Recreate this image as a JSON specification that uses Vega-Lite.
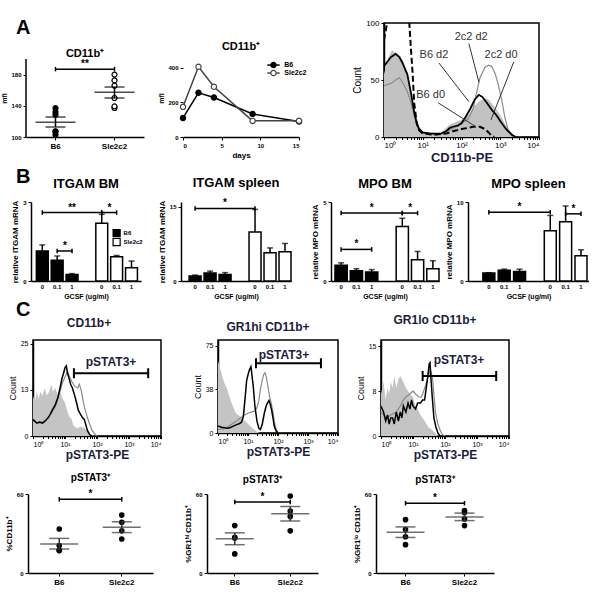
{
"$schema":"https://vega.github.io/schema/vega-lite/v6.json",
"background":"white",
"padding":{"left":0,"top":18,"right":0,"bottom":0},
"config":{
 "font":"Liberation Sans",
 "view":{"stroke":null},
 "axis":{"grid":false,"labelOverlap":false,"domainColor":"black","domainWidth":1.5,"tickColor":"black","tickSize":3,"tickWidth":1,"labelColor":"black","labelFontSize":6,"labelFontWeight":"bold","labelPadding":2,"titleColor":"black","titleFontSize":8,"titleFontWeight":"bold","titlePadding":3},
 "title":{"fontSize":12,"fontWeight":"bold","color":"black"}
},
"datasets":{
 "a1pts":[{"strain":"B6","mfi":132},{"strain":"B6","mfi":128.6},{"strain":"B6","mfi":137},{"strain":"B6","mfi":107.3},{"strain":"B6","mfi":107},{"strain":"B6","mfi":103},{"strain":"Sle2c2","mfi":180},{"strain":"Sle2c2","mfi":172.6},{"strain":"Sle2c2","mfi":165.8},{"strain":"Sle2c2","mfi":150},{"strain":"Sle2c2","mfi":137.2},{"strain":"Sle2c2","mfi":139.3}],
 "a1stats":[{"strain":"B6","mean":118.8,"lo":112.8,"hi":125.6},{"strain":"Sle2c2","mean":157.3,"lo":150,"hi":164.1}],
 "a1sig":[{"from":"B6","to":"Sle2c2","level":187,"label":"**"}],
 "a2":[{"strain":"B6","day":0,"mfi":110},{"strain":"B6","day":2,"mfi":255},{"strain":"B6","day":4,"mfi":228},{"strain":"B6","day":9,"mfi":133},{"strain":"B6","day":15,"mfi":90},{"strain":"Sle2c2","day":0,"mfi":174},{"strain":"Sle2c2","day":2,"mfi":405},{"strain":"Sle2c2","day":4,"mfi":290},{"strain":"Sle2c2","day":9,"mfi":93},{"strain":"Sle2c2","day":15,"mfi":94}],
 "a2leg":[{"strain":"B6","d0":10.9,"day":11.7,"d1":12.5,"tx":13.1,"mfi":415},{"strain":"Sle2c2","d0":10.9,"day":11.7,"d1":12.5,"tx":13.1,"mfi":369}],
 "a3ann":[{"label":"2c2 d2","tx":178,"ty":88,"x1":155,"y1":82,"x2":282,"y2":48},{"label":"B6 d2","tx":19.5,"ty":72,"x1":26,"y1":65,"x2":155,"y2":31},{"label":"2c2 d0","tx":1050,"ty":72,"x1":2240,"y1":66,"x2":575,"y2":15},{"label":"B6 d0","tx":16,"ty":37,"x1":25,"y1":30,"x2":235,"y2":9}],
 "hist":[
  {"panel":"a3","series":"2c2 d0","x":1,"count":55},{"panel":"a3","series":"2c2 d0","x":1.3,"count":70},{"panel":"a3","series":"2c2 d0","x":1.6,"count":76},{"panel":"a3","series":"2c2 d0","x":2,"count":74},{"panel":"a3","series":"2c2 d0","x":2.5,"count":72},{"panel":"a3","series":"2c2 d0","x":3,"count":68},{"panel":"a3","series":"2c2 d0","x":4,"count":55},{"panel":"a3","series":"2c2 d0","x":5,"count":40},{"panel":"a3","series":"2c2 d0","x":6,"count":25},{"panel":"a3","series":"2c2 d0","x":7,"count":14},{"panel":"a3","series":"2c2 d0","x":8.5,"count":7},{"panel":"a3","series":"2c2 d0","x":10,"count":4},{"panel":"a3","series":"2c2 d0","x":14,"count":3},{"panel":"a3","series":"2c2 d0","x":20,"count":3},{"panel":"a3","series":"2c2 d0","x":30,"count":4},{"panel":"a3","series":"2c2 d0","x":40,"count":8},{"panel":"a3","series":"2c2 d0","x":50,"count":11},{"panel":"a3","series":"2c2 d0","x":70,"count":13},{"panel":"a3","series":"2c2 d0","x":100,"count":15},{"panel":"a3","series":"2c2 d0","x":150,"count":19},{"panel":"a3","series":"2c2 d0","x":200,"count":26},{"panel":"a3","series":"2c2 d0","x":300,"count":32},{"panel":"a3","series":"2c2 d0","x":400,"count":34},{"panel":"a3","series":"2c2 d0","x":500,"count":33},{"panel":"a3","series":"2c2 d0","x":700,"count":27},{"panel":"a3","series":"2c2 d0","x":1000,"count":19},{"panel":"a3","series":"2c2 d0","x":1400,"count":10},{"panel":"a3","series":"2c2 d0","x":2000,"count":3},{"panel":"a3","series":"2c2 d0","x":2500,"count":0},
  {"panel":"a3","series":"B6 d2","x":1,"count":62},{"panel":"a3","series":"B6 d2","x":1.5,"count":70},{"panel":"a3","series":"B6 d2","x":2,"count":73},{"panel":"a3","series":"B6 d2","x":2.5,"count":70},{"panel":"a3","series":"B6 d2","x":3,"count":65},{"panel":"a3","series":"B6 d2","x":4,"count":55},{"panel":"a3","series":"B6 d2","x":5,"count":38},{"panel":"a3","series":"B6 d2","x":6,"count":22},{"panel":"a3","series":"B6 d2","x":7,"count":12},{"panel":"a3","series":"B6 d2","x":8,"count":7},{"panel":"a3","series":"B6 d2","x":10,"count":4},{"panel":"a3","series":"B6 d2","x":15,"count":3},{"panel":"a3","series":"B6 d2","x":20,"count":3},{"panel":"a3","series":"B6 d2","x":30,"count":3},{"panel":"a3","series":"B6 d2","x":40,"count":5},{"panel":"a3","series":"B6 d2","x":50,"count":8},{"panel":"a3","series":"B6 d2","x":60,"count":9},{"panel":"a3","series":"B6 d2","x":80,"count":10},{"panel":"a3","series":"B6 d2","x":100,"count":12},{"panel":"a3","series":"B6 d2","x":130,"count":18},{"panel":"a3","series":"B6 d2","x":170,"count":25},{"panel":"a3","series":"B6 d2","x":220,"count":33},{"panel":"a3","series":"B6 d2","x":280,"count":37},{"panel":"a3","series":"B6 d2","x":350,"count":35},{"panel":"a3","series":"B6 d2","x":450,"count":30},{"panel":"a3","series":"B6 d2","x":600,"count":24},{"panel":"a3","series":"B6 d2","x":800,"count":19},{"panel":"a3","series":"B6 d2","x":1000,"count":14},{"panel":"a3","series":"B6 d2","x":1400,"count":7},{"panel":"a3","series":"B6 d2","x":2000,"count":2},{"panel":"a3","series":"B6 d2","x":2500,"count":0},
  {"panel":"a3","series":"2c2 d2","x":1,"count":45},{"panel":"a3","series":"2c2 d2","x":1.5,"count":47},{"panel":"a3","series":"2c2 d2","x":2,"count":50},{"panel":"a3","series":"2c2 d2","x":2.5,"count":52},{"panel":"a3","series":"2c2 d2","x":3,"count":48},{"panel":"a3","series":"2c2 d2","x":4,"count":40},{"panel":"a3","series":"2c2 d2","x":5,"count":30},{"panel":"a3","series":"2c2 d2","x":6,"count":18},{"panel":"a3","series":"2c2 d2","x":8,"count":8},{"panel":"a3","series":"2c2 d2","x":10,"count":4},{"panel":"a3","series":"2c2 d2","x":20,"count":3},{"panel":"a3","series":"2c2 d2","x":30,"count":3},{"panel":"a3","series":"2c2 d2","x":50,"count":6},{"panel":"a3","series":"2c2 d2","x":70,"count":9},{"panel":"a3","series":"2c2 d2","x":100,"count":12},{"panel":"a3","series":"2c2 d2","x":150,"count":16},{"panel":"a3","series":"2c2 d2","x":200,"count":25},{"panel":"a3","series":"2c2 d2","x":250,"count":40},{"panel":"a3","series":"2c2 d2","x":300,"count":52},{"panel":"a3","series":"2c2 d2","x":400,"count":61},{"panel":"a3","series":"2c2 d2","x":500,"count":63},{"panel":"a3","series":"2c2 d2","x":600,"count":62},{"panel":"a3","series":"2c2 d2","x":750,"count":55},{"panel":"a3","series":"2c2 d2","x":900,"count":45},{"panel":"a3","series":"2c2 d2","x":1100,"count":32},{"panel":"a3","series":"2c2 d2","x":1300,"count":18},{"panel":"a3","series":"2c2 d2","x":1600,"count":6},{"panel":"a3","series":"2c2 d2","x":2000,"count":1},{"panel":"a3","series":"2c2 d2","x":2200,"count":0},
  {"panel":"a3","series":"B6 d0","x":1,"count":85},{"panel":"a3","series":"B6 d0","x":1.2,"count":100},{"panel":"a3","series":"B6 d0","x":1.5,"count":115},{"panel":"a3","series":"B6 d0","x":2,"count":120},{"panel":"a3","series":"B6 d0","x":3,"count":120},{"panel":"a3","series":"B6 d0","x":4,"count":110},{"panel":"a3","series":"B6 d0","x":4.5,"count":100},{"panel":"a3","series":"B6 d0","x":5,"count":75},{"panel":"a3","series":"B6 d0","x":5.5,"count":55},{"panel":"a3","series":"B6 d0","x":6,"count":30},{"panel":"a3","series":"B6 d0","x":7,"count":12},{"panel":"a3","series":"B6 d0","x":8,"count":6},{"panel":"a3","series":"B6 d0","x":10,"count":3},{"panel":"a3","series":"B6 d0","x":20,"count":2},{"panel":"a3","series":"B6 d0","x":40,"count":3},{"panel":"a3","series":"B6 d0","x":60,"count":5},{"panel":"a3","series":"B6 d0","x":100,"count":7},{"panel":"a3","series":"B6 d0","x":150,"count":8},{"panel":"a3","series":"B6 d0","x":200,"count":9},{"panel":"a3","series":"B6 d0","x":300,"count":9},{"panel":"a3","series":"B6 d0","x":400,"count":7},{"panel":"a3","series":"B6 d0","x":500,"count":4},{"panel":"a3","series":"B6 d0","x":600,"count":1},{"panel":"a3","series":"B6 d0","x":700,"count":0},
  {"panel":"c1","series":"isotype","x":1,"count":11},{"panel":"c1","series":"isotype","x":1.15,"count":9},{"panel":"c1","series":"isotype","x":1.3,"count":12},{"panel":"c1","series":"isotype","x":1.5,"count":10},{"panel":"c1","series":"isotype","x":1.7,"count":12},{"panel":"c1","series":"isotype","x":2,"count":11},{"panel":"c1","series":"isotype","x":2.3,"count":13},{"panel":"c1","series":"isotype","x":2.7,"count":11},{"panel":"c1","series":"isotype","x":3.2,"count":12},{"panel":"c1","series":"isotype","x":3.7,"count":14},{"panel":"c1","series":"isotype","x":4.2,"count":12},{"panel":"c1","series":"isotype","x":5,"count":13},{"panel":"c1","series":"isotype","x":6,"count":11},{"panel":"c1","series":"isotype","x":7,"count":12},{"panel":"c1","series":"isotype","x":8.5,"count":10},{"panel":"c1","series":"isotype","x":10,"count":9},{"panel":"c1","series":"isotype","x":12,"count":6.5},{"panel":"c1","series":"isotype","x":14,"count":5},{"panel":"c1","series":"isotype","x":16,"count":4.7},{"panel":"c1","series":"isotype","x":18,"count":3},{"panel":"c1","series":"isotype","x":20,"count":2.6},{"panel":"c1","series":"isotype","x":25,"count":2},{"panel":"c1","series":"isotype","x":30,"count":2.6},{"panel":"c1","series":"isotype","x":40,"count":2.2},{"panel":"c1","series":"isotype","x":50,"count":1.5},{"panel":"c1","series":"isotype","x":60,"count":0.5},{"panel":"c1","series":"isotype","x":80,"count":0},
  {"panel":"c1","series":"B6","x":1,"count":4.5},{"panel":"c1","series":"B6","x":1.3,"count":3.5},{"panel":"c1","series":"B6","x":1.6,"count":3.8},{"panel":"c1","series":"B6","x":2,"count":3.5},{"panel":"c1","series":"B6","x":2.5,"count":4.2},{"panel":"c1","series":"B6","x":3,"count":5},{"panel":"c1","series":"B6","x":3.5,"count":6},{"panel":"c1","series":"B6","x":4,"count":7},{"panel":"c1","series":"B6","x":5,"count":8.5},{"panel":"c1","series":"B6","x":6,"count":10.5},{"panel":"c1","series":"B6","x":7,"count":13},{"panel":"c1","series":"B6","x":8,"count":15.5},{"panel":"c1","series":"B6","x":9,"count":17},{"panel":"c1","series":"B6","x":10,"count":18.5},{"panel":"c1","series":"B6","x":11,"count":19},{"panel":"c1","series":"B6","x":12,"count":17},{"panel":"c1","series":"B6","x":13,"count":16},{"panel":"c1","series":"B6","x":15,"count":14},{"panel":"c1","series":"B6","x":17,"count":13},{"panel":"c1","series":"B6","x":20,"count":11},{"panel":"c1","series":"B6","x":23,"count":9},{"panel":"c1","series":"B6","x":26,"count":7},{"panel":"c1","series":"B6","x":30,"count":6},{"panel":"c1","series":"B6","x":35,"count":5},{"panel":"c1","series":"B6","x":40,"count":4.5},{"panel":"c1","series":"B6","x":45,"count":3},{"panel":"c1","series":"B6","x":50,"count":1.5},{"panel":"c1","series":"B6","x":60,"count":0.3},{"panel":"c1","series":"B6","x":70,"count":0},
  {"panel":"c1","series":"Sle2c2","x":1,"count":4},{"panel":"c1","series":"Sle2c2","x":1.3,"count":3.8},{"panel":"c1","series":"Sle2c2","x":1.6,"count":3.5},{"panel":"c1","series":"Sle2c2","x":2,"count":3.8},{"panel":"c1","series":"Sle2c2","x":2.5,"count":4.5},{"panel":"c1","series":"Sle2c2","x":3,"count":5},{"panel":"c1","series":"Sle2c2","x":4,"count":6.5},{"panel":"c1","series":"Sle2c2","x":5,"count":8},{"panel":"c1","series":"Sle2c2","x":6,"count":10},{"panel":"c1","series":"Sle2c2","x":7,"count":12},{"panel":"c1","series":"Sle2c2","x":8,"count":14},{"panel":"c1","series":"Sle2c2","x":10,"count":16},{"panel":"c1","series":"Sle2c2","x":12,"count":17.5},{"panel":"c1","series":"Sle2c2","x":14,"count":16},{"panel":"c1","series":"Sle2c2","x":17,"count":14.5},{"panel":"c1","series":"Sle2c2","x":20,"count":13.5},{"panel":"c1","series":"Sle2c2","x":25,"count":13},{"panel":"c1","series":"Sle2c2","x":28,"count":14},{"panel":"c1","series":"Sle2c2","x":32,"count":12.5},{"panel":"c1","series":"Sle2c2","x":36,"count":10},{"panel":"c1","series":"Sle2c2","x":40,"count":8},{"panel":"c1","series":"Sle2c2","x":50,"count":5},{"panel":"c1","series":"Sle2c2","x":60,"count":3},{"panel":"c1","series":"Sle2c2","x":70,"count":1.5},{"panel":"c1","series":"Sle2c2","x":90,"count":0.3},{"panel":"c1","series":"Sle2c2","x":100,"count":0},
  {"panel":"c2","series":"isotype","x":1,"count":62},{"panel":"c2","series":"isotype","x":1.2,"count":55},{"panel":"c2","series":"isotype","x":1.4,"count":48},{"panel":"c2","series":"isotype","x":1.7,"count":42},{"panel":"c2","series":"isotype","x":2,"count":38},{"panel":"c2","series":"isotype","x":2.5,"count":30},{"panel":"c2","series":"isotype","x":3,"count":24},{"panel":"c2","series":"isotype","x":3.5,"count":20},{"panel":"c2","series":"isotype","x":4,"count":17},{"panel":"c2","series":"isotype","x":5,"count":15},{"panel":"c2","series":"isotype","x":6,"count":13},{"panel":"c2","series":"isotype","x":7.5,"count":11},{"panel":"c2","series":"isotype","x":10,"count":8},{"panel":"c2","series":"isotype","x":13,"count":5},{"panel":"c2","series":"isotype","x":16,"count":3},{"panel":"c2","series":"isotype","x":20,"count":1},{"panel":"c2","series":"isotype","x":25,"count":0},
  {"panel":"c2","series":"B6","x":1,"count":6},{"panel":"c2","series":"B6","x":1.3,"count":5},{"panel":"c2","series":"B6","x":1.7,"count":4.5},{"panel":"c2","series":"B6","x":2,"count":4},{"panel":"c2","series":"B6","x":2.5,"count":4.5},{"panel":"c2","series":"B6","x":3,"count":5.5},{"panel":"c2","series":"B6","x":4,"count":7},{"panel":"c2","series":"B6","x":5,"count":8},{"panel":"c2","series":"B6","x":6,"count":9},{"panel":"c2","series":"B6","x":7,"count":14},{"panel":"c2","series":"B6","x":8,"count":30},{"panel":"c2","series":"B6","x":9,"count":45},{"panel":"c2","series":"B6","x":10,"count":50},{"panel":"c2","series":"B6","x":11,"count":54},{"panel":"c2","series":"B6","x":12.5,"count":57},{"panel":"c2","series":"B6","x":13.5,"count":50},{"panel":"c2","series":"B6","x":15,"count":40},{"panel":"c2","series":"B6","x":17,"count":23},{"panel":"c2","series":"B6","x":20,"count":10},{"panel":"c2","series":"B6","x":23,"count":4},{"panel":"c2","series":"B6","x":26,"count":3},{"panel":"c2","series":"B6","x":30,"count":8},{"panel":"c2","series":"B6","x":35,"count":17},{"panel":"c2","series":"B6","x":40,"count":23},{"panel":"c2","series":"B6","x":45,"count":26},{"panel":"c2","series":"B6","x":50,"count":28},{"panel":"c2","series":"B6","x":55,"count":25},{"panel":"c2","series":"B6","x":62,"count":19},{"panel":"c2","series":"B6","x":68,"count":13},{"panel":"c2","series":"B6","x":75,"count":6},{"panel":"c2","series":"B6","x":85,"count":2},{"panel":"c2","series":"B6","x":100,"count":0},
  {"panel":"c2","series":"Sle2c2","x":1,"count":3},{"panel":"c2","series":"Sle2c2","x":1.5,"count":3.5},{"panel":"c2","series":"Sle2c2","x":2,"count":5},{"panel":"c2","series":"Sle2c2","x":3,"count":8},{"panel":"c2","series":"Sle2c2","x":4,"count":10},{"panel":"c2","series":"Sle2c2","x":5,"count":12},{"panel":"c2","series":"Sle2c2","x":7,"count":15},{"panel":"c2","series":"Sle2c2","x":10,"count":17},{"panel":"c2","series":"Sle2c2","x":13,"count":18},{"panel":"c2","series":"Sle2c2","x":17,"count":19},{"panel":"c2","series":"Sle2c2","x":20,"count":22},{"panel":"c2","series":"Sle2c2","x":23,"count":28},{"panel":"c2","series":"Sle2c2","x":26,"count":38},{"panel":"c2","series":"Sle2c2","x":30,"count":46},{"panel":"c2","series":"Sle2c2","x":34,"count":51},{"panel":"c2","series":"Sle2c2","x":37,"count":52},{"panel":"c2","series":"Sle2c2","x":41,"count":48},{"panel":"c2","series":"Sle2c2","x":46,"count":40},{"panel":"c2","series":"Sle2c2","x":52,"count":32},{"panel":"c2","series":"Sle2c2","x":60,"count":25},{"panel":"c2","series":"Sle2c2","x":68,"count":18},{"panel":"c2","series":"Sle2c2","x":75,"count":10},{"panel":"c2","series":"Sle2c2","x":85,"count":4},{"panel":"c2","series":"Sle2c2","x":100,"count":0},
  {"panel":"c3","series":"isotype","x":1,"count":7},{"panel":"c3","series":"isotype","x":1.2,"count":9},{"panel":"c3","series":"isotype","x":1.4,"count":6},{"panel":"c3","series":"isotype","x":1.6,"count":8},{"panel":"c3","series":"isotype","x":1.8,"count":7},{"panel":"c3","series":"isotype","x":2,"count":9},{"panel":"c3","series":"isotype","x":2.3,"count":8},{"panel":"c3","series":"isotype","x":2.6,"count":10},{"panel":"c3","series":"isotype","x":3,"count":8},{"panel":"c3","series":"isotype","x":3.5,"count":9.5},{"panel":"c3","series":"isotype","x":4,"count":10},{"panel":"c3","series":"isotype","x":5,"count":9},{"panel":"c3","series":"isotype","x":6,"count":8},{"panel":"c3","series":"isotype","x":7,"count":7.5},{"panel":"c3","series":"isotype","x":8,"count":7},{"panel":"c3","series":"isotype","x":10,"count":6.5},{"panel":"c3","series":"isotype","x":12,"count":5},{"panel":"c3","series":"isotype","x":14,"count":4.5},{"panel":"c3","series":"isotype","x":17,"count":3.5},{"panel":"c3","series":"isotype","x":20,"count":3},{"panel":"c3","series":"isotype","x":25,"count":2.2},{"panel":"c3","series":"isotype","x":30,"count":1.5},{"panel":"c3","series":"isotype","x":40,"count":1},{"panel":"c3","series":"isotype","x":50,"count":0.5},{"panel":"c3","series":"isotype","x":60,"count":0},
  {"panel":"c3","series":"B6","x":1,"count":5},{"panel":"c3","series":"B6","x":1.2,"count":4},{"panel":"c3","series":"B6","x":1.4,"count":2.5},{"panel":"c3","series":"B6","x":1.6,"count":3.5},{"panel":"c3","series":"B6","x":1.8,"count":2},{"panel":"c3","series":"B6","x":2,"count":3},{"panel":"c3","series":"B6","x":2.3,"count":3},{"panel":"c3","series":"B6","x":2.6,"count":2},{"panel":"c3","series":"B6","x":3,"count":4},{"panel":"c3","series":"B6","x":3.5,"count":2.5},{"panel":"c3","series":"B6","x":4,"count":4},{"panel":"c3","series":"B6","x":4.5,"count":3},{"panel":"c3","series":"B6","x":5,"count":5},{"panel":"c3","series":"B6","x":6,"count":4},{"panel":"c3","series":"B6","x":7,"count":5.5},{"panel":"c3","series":"B6","x":8,"count":4.5},{"panel":"c3","series":"B6","x":9,"count":6},{"panel":"c3","series":"B6","x":10,"count":5},{"panel":"c3","series":"B6","x":12,"count":4.5},{"panel":"c3","series":"B6","x":14,"count":5.5},{"panel":"c3","series":"B6","x":17,"count":5.5},{"panel":"c3","series":"B6","x":20,"count":6},{"panel":"c3","series":"B6","x":23,"count":6},{"panel":"c3","series":"B6","x":26,"count":8},{"panel":"c3","series":"B6","x":29,"count":10},{"panel":"c3","series":"B6","x":32,"count":12},{"panel":"c3","series":"B6","x":34,"count":12.2},{"panel":"c3","series":"B6","x":36,"count":10},{"panel":"c3","series":"B6","x":40,"count":6.5},{"panel":"c3","series":"B6","x":45,"count":3},{"panel":"c3","series":"B6","x":52,"count":1.5},{"panel":"c3","series":"B6","x":60,"count":0.5},{"panel":"c3","series":"B6","x":70,"count":0},
  {"panel":"c3","series":"Sle2c2","x":1,"count":4},{"panel":"c3","series":"Sle2c2","x":1.5,"count":3},{"panel":"c3","series":"Sle2c2","x":2,"count":3.5},{"panel":"c3","series":"Sle2c2","x":3,"count":4},{"panel":"c3","series":"Sle2c2","x":4,"count":5},{"panel":"c3","series":"Sle2c2","x":5,"count":6},{"panel":"c3","series":"Sle2c2","x":6,"count":6.5},{"panel":"c3","series":"Sle2c2","x":8,"count":7},{"panel":"c3","series":"Sle2c2","x":10,"count":7.5},{"panel":"c3","series":"Sle2c2","x":12,"count":7},{"panel":"c3","series":"Sle2c2","x":15,"count":6.5},{"panel":"c3","series":"Sle2c2","x":18,"count":6.5},{"panel":"c3","series":"Sle2c2","x":20,"count":7},{"panel":"c3","series":"Sle2c2","x":25,"count":8.5},{"panel":"c3","series":"Sle2c2","x":30,"count":10},{"panel":"c3","series":"Sle2c2","x":35,"count":11},{"panel":"c3","series":"Sle2c2","x":40,"count":10},{"panel":"c3","series":"Sle2c2","x":45,"count":7},{"panel":"c3","series":"Sle2c2","x":50,"count":4},{"panel":"c3","series":"Sle2c2","x":60,"count":2},{"panel":"c3","series":"Sle2c2","x":70,"count":1},{"panel":"c3","series":"Sle2c2","x":80,"count":0.3},{"panel":"c3","series":"Sle2c2","x":100,"count":0}
 ],
 "gates":[{"panel":"c1","from":19,"to":3980,"level":17,"lx":275,"ly":20,"label":"pSTAT3+"},{"panel":"c2","from":18.5,"to":2700,"level":60,"lx":158,"ly":67,"label":"pSTAT3+"},{"panel":"c3","from":20,"to":3980,"level":10,"lx":275,"ly":12.7,"label":"pSTAT3+"}],
 "bars":[
  {"panel":"b1","cond":"B6|0","strain":"B6","val":1.14,"err":1.37},{"panel":"b1","cond":"B6|0.1","strain":"B6","val":0.79,"err":0.95},{"panel":"b1","cond":"B6|1","strain":"B6","val":0.25,"err":0.28},{"panel":"b1","cond":"Sle2c2|0","strain":"Sle2c2","val":2.19,"err":2.53},{"panel":"b1","cond":"Sle2c2|0.1","strain":"Sle2c2","val":0.92,"err":0.97},{"panel":"b1","cond":"Sle2c2|1","strain":"Sle2c2","val":0.5,"err":0.76},
  {"panel":"b2","cond":"B6|0","strain":"B6","val":1.0,"err":1.2},{"panel":"b2","cond":"B6|0.1","strain":"B6","val":1.6,"err":2.0},{"panel":"b2","cond":"B6|1","strain":"B6","val":1.3,"err":1.7},{"panel":"b2","cond":"Sle2c2|0","strain":"Sle2c2","val":9.9,"err":14.5},{"panel":"b2","cond":"Sle2c2|0.1","strain":"Sle2c2","val":5.7,"err":6.7},{"panel":"b2","cond":"Sle2c2|1","strain":"Sle2c2","val":5.9,"err":7.6},
  {"panel":"b3","cond":"B6|0","strain":"B6","val":1.0,"err":1.15},{"panel":"b3","cond":"B6|0.1","strain":"B6","val":0.65,"err":0.78},{"panel":"b3","cond":"B6|1","strain":"B6","val":0.57,"err":0.72},{"panel":"b3","cond":"Sle2c2|0","strain":"Sle2c2","val":3.45,"err":3.97},{"panel":"b3","cond":"Sle2c2|0.1","strain":"Sle2c2","val":1.35,"err":1.87},{"panel":"b3","cond":"Sle2c2|1","strain":"Sle2c2","val":0.78,"err":1.28},
  {"panel":"b4","cond":"B6|0","strain":"B6","val":1.0,"err":1.05},{"panel":"b4","cond":"B6|0.1","strain":"B6","val":1.35,"err":1.5},{"panel":"b4","cond":"B6|1","strain":"B6","val":1.2,"err":1.5},{"panel":"b4","cond":"Sle2c2|0","strain":"Sle2c2","val":6.35,"err":8.3},{"panel":"b4","cond":"Sle2c2|0.1","strain":"Sle2c2","val":7.5,"err":9.5},{"panel":"b4","cond":"Sle2c2|1","strain":"Sle2c2","val":3.2,"err":3.95}
 ],
 "blegend":[{"strain":"B6","cond":"Sle2c2|0.1","y":1.82},{"strain":"Sle2c2","cond":"Sle2c2|0.1","y":1.48}],
 "bsig":[
  {"panel":"b1","from":"B6|0","to":"Sle2c2|0","level":2.6,"label":"**","mid":"B6|1"},{"panel":"b1","from":"Sle2c2|0","to":"Sle2c2|0.1","level":2.6,"label":"*"},{"panel":"b1","from":"B6|0.1","to":"B6|1","level":1.14,"label":"*"},
  {"panel":"b2","from":"B6|0","to":"Sle2c2|0","level":14.7,"label":"*","mid":"B6|1"},
  {"panel":"b3","from":"B6|0","to":"Sle2c2|0","level":4.3,"label":"*","mid":"B6|1"},{"panel":"b3","from":"Sle2c2|0","to":"Sle2c2|0.1","level":4.3,"label":"*"},{"panel":"b3","from":"B6|0","to":"B6|1","level":2.0,"label":"*","mid":"B6|0.1"},
  {"panel":"b4","from":"B6|0","to":"Sle2c2|0","level":8.7,"label":"*","mid":"B6|1"},{"panel":"b4","from":"Sle2c2|0.1","to":"Sle2c2|1","level":8.5,"label":"*"}
 ],
 "spts":[
  {"panel":"s1","strain":"B6","pct":33.4},{"panel":"s1","strain":"B6","pct":20.8},{"panel":"s1","strain":"B6","pct":17},{"panel":"s1","strain":"B6","pct":17.2},{"panel":"s1","strain":"Sle2c2","pct":44},{"panel":"s1","strain":"Sle2c2","pct":38.5},{"panel":"s1","strain":"Sle2c2","pct":32},{"panel":"s1","strain":"Sle2c2","pct":25.8},
  {"panel":"s2","strain":"B6","pct":36},{"panel":"s2","strain":"B6","pct":27},{"panel":"s2","strain":"B6","pct":26.5},{"panel":"s2","strain":"B6","pct":14.5},{"panel":"s2","strain":"Sle2c2","pct":58.5},{"panel":"s2","strain":"Sle2c2","pct":47},{"panel":"s2","strain":"Sle2c2","pct":43},{"panel":"s2","strain":"Sle2c2","pct":32},
  {"panel":"s3","strain":"B6","pct":40.5},{"panel":"s3","strain":"B6","pct":33},{"panel":"s3","strain":"B6","pct":27.5},{"panel":"s3","strain":"B6","pct":21.5},{"panel":"s3","strain":"Sle2c2","pct":47.5},{"panel":"s3","strain":"Sle2c2","pct":46},{"panel":"s3","strain":"Sle2c2","pct":41},{"panel":"s3","strain":"Sle2c2","pct":36}
 ],
 "sstats":[
  {"panel":"s1","strain":"B6","mean":22,"lo":18.2,"hi":26.3},{"panel":"s1","strain":"Sle2c2","mean":34.7,"lo":30.7,"hi":38.9},
  {"panel":"s2","strain":"B6","mean":26,"lo":21.5,"hi":30.5},{"panel":"s2","strain":"Sle2c2","mean":45,"lo":39.5,"hi":50.5},
  {"panel":"s3","strain":"B6","mean":31,"lo":27,"hi":35},{"panel":"s3","strain":"Sle2c2","mean":42.5,"lo":39.8,"hi":45.5}
 ],
 "ssig":[{"panel":"s1","from":"B6","to":"Sle2c2","level":56,"label":"*"},{"panel":"s2","from":"B6","to":"Sle2c2","level":54,"label":"*"},{"panel":"s3","from":"B6","to":"Sle2c2","level":53,"label":"*"}]
},
"spacing":0,
"vconcat":[
 {"bounds":"flush","spacing":12,"hconcat":[
  {"width":13,"height":1,"data":{"values":[]},"mark":"point","title":{"text":"A","anchor":"start","fontSize":20,"offset":0,"dy":15,"dx":15,"frame":"group"}},
  {"width":118,"height":114,"title":{"text":"CD11b⁺","fontSize":11,"offset":0,"dy":36},
   "encoding":{"x":{"field":"strain","type":"nominal","scale":{"domain":["B6","Sle2c2"],"paddingInner":0,"paddingOuter":0},"axis":{"title":null,"labelAngle":0,"labelFontSize":8}}},
   "layer":[
    {"data":{"name":"a1pts"},"mark":{"type":"point","filled":true,"size":25,"stroke":"black","strokeWidth":1.2,"opacity":1},
     "encoding":{"y":{"field":"mfi","type":"quantitative","scale":{"domain":[100,246.2],"nice":false,"zero":false},"axis":{"values":[100,120,140,160,180,200],"title":"mfi","titleFontSize":7,"domain":false,"titleY":75,"labelOverlap":false}},
                 "fill":{"field":"strain","type":"nominal","scale":{"domain":["B6","Sle2c2"],"range":["black","white"]},"legend":null}}},
    {"data":{"values":[{}]},"mark":{"type":"rule","strokeWidth":1.5,"color":"black"},"encoding":{"x":{"datum":"B6","bandPosition":0},"y":{"datum":100},"y2":{"datum":200}}},
    {"data":{"name":"a1stats"},"mark":{"type":"tick","size":40,"thickness":1.5,"color":"black"},"encoding":{"y":{"field":"mean","type":"quantitative"}}},
    {"data":{"name":"a1stats"},"mark":{"type":"rule","strokeWidth":1.5,"color":"black"},"encoding":{"y":{"field":"lo","type":"quantitative"},"y2":{"field":"hi"}}},
    {"data":{"name":"a1stats"},"mark":{"type":"tick","size":20,"thickness":1.5,"color":"black"},"encoding":{"y":{"field":"lo","type":"quantitative"}}},
    {"data":{"name":"a1stats"},"mark":{"type":"tick","size":20,"thickness":1.5,"color":"black"},"encoding":{"y":{"field":"hi","type":"quantitative"}}},
    {"data":{"name":"a1sig"},"mark":{"type":"rule","strokeWidth":1.5,"color":"black"},"encoding":{"x":{"field":"from","type":"nominal"},"x2":{"field":"to"},"y":{"field":"level","type":"quantitative"}}},
    {"data":{"name":"a1sig"},"transform":[{"fold":["from","to"],"as":["end","pos"]}],"mark":{"type":"point","shape":"M0,-1L0,1","size":20,"stroke":"black","strokeWidth":1.5,"opacity":1},"encoding":{"x":{"field":"pos","type":"nominal"},"y":{"field":"level","type":"quantitative"}}},
    {"data":{"name":"a1sig"},"mark":{"type":"text","baseline":"bottom","fontSize":10,"fontWeight":"bold"},"encoding":{"x":{"field":"from","type":"nominal","bandPosition":1},"y":{"field":"level","type":"quantitative"},"text":{"field":"label"}}}
   ]},
  {"width":15,"height":1,"data":{"values":[]},"mark":"point"},
  {"width":116,"height":114,"title":{"text":"CD11b⁺","fontSize":11,"offset":0,"dy":29},
   "encoding":{"x":{"field":"day","type":"quantitative","scale":{"domain":[0,15]},"axis":{"values":[0,5,10,15],"title":"days","titleFontSize":8}}},
   "layer":[
    {"data":{"name":"a2"},"mark":{"type":"line","strokeWidth":1.5},"encoding":{"y":{"field":"mfi","type":"quantitative","scale":{"domain":[0,657.7],"nice":false},"axis":{"values":[0,100,200,300,400],"title":"mfi","titleFontSize":7,"domain":false,"titleY":75,"labelOverlap":false}},"stroke":{"field":"strain","type":"nominal","scale":{"domain":["B6","Sle2c2"],"range":["black","#444444"]},"legend":null}}},
    {"data":{"name":"a2"},"mark":{"type":"point","filled":true,"size":28,"strokeWidth":1.2,"opacity":1},"encoding":{"y":{"field":"mfi","type":"quantitative"},"stroke":{"field":"strain","type":"nominal","legend":null},"fill":{"field":"strain","type":"nominal","scale":{"domain":["B6","Sle2c2"],"range":["black","white"]},"legend":null}}},
    {"data":{"values":[{}]},"mark":{"type":"rule","strokeWidth":1.5,"color":"black"},"encoding":{"x":{"datum":0},"y":{"datum":0},"y2":{"datum":450}}},
    {"data":{"name":"a2leg"},"mark":{"type":"rule","strokeWidth":1.5},"encoding":{"x":{"field":"d0","type":"quantitative"},"x2":{"field":"d1"},"y":{"field":"mfi","type":"quantitative"},"stroke":{"field":"strain","type":"nominal","legend":null}}},
    {"data":{"name":"a2leg"},"mark":{"type":"point","filled":true,"size":28,"strokeWidth":1.2,"opacity":1},"encoding":{"x":{"field":"day","type":"quantitative"},"y":{"field":"mfi","type":"quantitative"},"stroke":{"field":"strain","type":"nominal","legend":null},"fill":{"field":"strain","type":"nominal","legend":null}}},
    {"data":{"name":"a2leg"},"mark":{"type":"text","align":"left","baseline":"middle","fontSize":7,"fontWeight":"bold"},"encoding":{"x":{"field":"tx","type":"quantitative"},"y":{"field":"mfi","type":"quantitative"},"text":{"field":"strain"}}}
   ]},
  {"width":61,"height":1,"data":{"values":[]},"mark":"point"},
  {"width":155,"height":114,"view":{"stroke":"black","strokeWidth":1.5},
   "layer":[
    {"data":{"name":"hist"},"transform":[{"filter":"datum.panel=='a3' && datum.series=='2c2 d0'"}],"mark":{"type":"area","color":"#c2c2c2","clip":true},
     "encoding":{"x":{"field":"x","type":"quantitative","scale":{"type":"log","domain":[1,10000]},"axis":{"values":[1,2,3,4,5,6,7,8,9,10,20,30,40,50,60,70,80,90,100,200,300,400,500,600,700,800,900,1000,2000,3000,4000,5000,6000,7000,8000,9000,10000],"labelExpr":"datum.value==1?'10⁰':datum.value==10?'10¹':datum.value==100?'10²':datum.value==1000?'10³':datum.value==10000?'10⁴':''","tickSize":2.5,"title":"CD11b-PE","titleFontSize":13,"titleColor":"#1c1c3c","labelFontSize":8,"labelFontWeight":"normal","titlePadding":2}},
                 "y":{"field":"count","type":"quantitative","scale":{"domain":[0,100]},"axis":{"values":[0,25,50,75,100],"title":"Count","titleFontSize":10,"titleFontWeight":"normal","labelFontSize":8,"labelFontWeight":"normal"}}}},
    {"data":{"name":"hist"},"transform":[{"filter":"datum.panel=='a3' && datum.series=='2c2 d2'"}],"mark":{"type":"line","color":"#8a8a8a","strokeWidth":1.2,"clip":true},"encoding":{"x":{"field":"x","type":"quantitative"},"y":{"field":"count","type":"quantitative"}}},
    {"data":{"name":"hist"},"transform":[{"filter":"datum.panel=='a3' && datum.series=='B6 d2'"}],"mark":{"type":"line","color":"black","strokeWidth":1.8,"clip":true},"encoding":{"x":{"field":"x","type":"quantitative"},"y":{"field":"count","type":"quantitative"}}},
    {"data":{"name":"hist"},"transform":[{"filter":"datum.panel=='a3' && datum.series=='B6 d0'"}],"mark":{"type":"line","color":"black","strokeWidth":2,"strokeDash":[6,3],"clip":true},"encoding":{"x":{"field":"x","type":"quantitative"},"y":{"field":"count","type":"quantitative"}}},
    {"data":{"name":"a3ann"},"mark":{"type":"rule","color":"#333333","strokeWidth":1},"encoding":{"x":{"field":"x1","type":"quantitative"},"y":{"field":"y1","type":"quantitative"},"x2":{"field":"x2"},"y2":{"field":"y2"}}},
    {"data":{"name":"a3ann"},"mark":{"type":"text","fontSize":11,"color":"#333333","baseline":"middle"},"encoding":{"x":{"field":"tx","type":"quantitative"},"y":{"field":"ty","type":"quantitative"},"text":{"field":"label"}}}
   ]}
 ]},
 {"width":1,"height":1,"data":{"values":[]},"mark":"point"},
 {"bounds":"flush","spacing":10,"hconcat":[
  {"width":20,"height":1,"data":{"values":[]},"mark":"point","title":{"text":"B","anchor":"start","fontSize":20,"offset":15,"dx":15,"frame":"group"}},
  {"width":110,"height":79,"title":{"text":"ITGAM BM","fontSize":13,"offset":8},
   "layer":[
    {"data":{"name":"bars"},"transform":[{"filter":"datum.panel=='b1'"}],"mark":{"type":"bar","stroke":"black","strokeWidth":1.5},
     "encoding":{"x":{"field":"cond","type":"nominal","scale":{"domain":["B6|0","B6|0.1","B6|1","gap","Sle2c2|0","Sle2c2|0.1","Sle2c2|1"],"paddingInner":0.2,"paddingOuter":0.3,"align":0.6},"axis":{"title":"GCSF (ug/ml)","titleFontSize":7,"labelAngle":0,"ticks":false,"labelExpr":"indexof(datum.label,'|')>=0 ? split(datum.label,'|')[1] : ''"}},
                 "y":{"field":"val","type":"quantitative","scale":{"domain":[0,3]},"axis":{"values":[0,1,2,3],"title":"relative ITGAM mRNA"}},
                 "fill":{"field":"strain","type":"nominal","scale":{"domain":["B6","Sle2c2"],"range":["black","white"]},"legend":null}}},
    {"data":{"name":"bars"},"transform":[{"filter":"datum.panel=='b1'"}],"mark":{"type":"rule","color":"black","strokeWidth":1.5},"encoding":{"x":{"field":"cond","type":"nominal"},"y":{"field":"val","type":"quantitative"},"y2":{"field":"err"}}},
    {"data":{"name":"bars"},"transform":[{"filter":"datum.panel=='b1'"}],"mark":{"type":"tick","color":"black","size":6,"thickness":1.5},"encoding":{"x":{"field":"cond","type":"nominal"},"y":{"field":"err","type":"quantitative"}}},
    {"data":{"name":"bsig"},"transform":[{"filter":"datum.panel=='b1'"}],"mark":{"type":"rule","color":"black","strokeWidth":1.5},"encoding":{"x":{"field":"from","type":"nominal"},"x2":{"field":"to"},"y":{"field":"level","type":"quantitative"}}},
    {"data":{"name":"bsig"},"transform":[{"filter":"datum.panel=='b1'"},{"fold":["from","to"],"as":["end","pos"]}],"mark":{"type":"point","shape":"M0,-1L0,1","size":20,"stroke":"black","strokeWidth":1.5,"opacity":1},"encoding":{"x":{"field":"pos","type":"nominal"},"y":{"field":"level","type":"quantitative"}}},
    {"data":{"name":"bsig"},"transform":[{"filter":"datum.panel=='b1' && datum.mid"}],"mark":{"type":"text","baseline":"bottom","fontSize":10,"fontWeight":"bold"},"encoding":{"x":{"field":"mid","type":"nominal"},"y":{"field":"level","type":"quantitative"},"text":{"field":"label"}}},
    {"data":{"name":"bsig"},"transform":[{"filter":"datum.panel=='b1' && !datum.mid"}],"mark":{"type":"text","baseline":"bottom","fontSize":10,"fontWeight":"bold"},"encoding":{"x":{"field":"from","type":"nominal","bandPosition":1.15},"y":{"field":"level","type":"quantitative"},"text":{"field":"label"}}},
    {"data":{"name":"blegend"},"mark":{"type":"point","shape":"square","size":50,"filled":true,"stroke":"black","strokeWidth":1.2,"opacity":1},"encoding":{"x":{"field":"cond","type":"nominal"},"y":{"field":"y","type":"quantitative"},"fill":{"field":"strain","type":"nominal","legend":null}}},
    {"data":{"name":"blegend"},"mark":{"type":"text","align":"left","baseline":"middle","fontSize":6,"fontWeight":"bold","dx":7},"encoding":{"x":{"field":"cond","type":"nominal"},"y":{"field":"y","type":"quantitative"},"text":{"field":"strain"}}}
   ]},
  {"width":20,"height":1,"data":{"values":[]},"mark":"point"},
  {"width":110,"height":79,"title":{"text":"ITGAM spleen","fontSize":13,"offset":8},
   "layer":[
    {"data":{"name":"bars"},"transform":[{"filter":"datum.panel=='b2'"}],"mark":{"type":"bar","stroke":"black","strokeWidth":1.5},
     "encoding":{"x":{"field":"cond","type":"nominal","scale":{"domain":["B6|0","B6|0.1","B6|1","gap","Sle2c2|0","Sle2c2|0.1","Sle2c2|1"],"paddingInner":0.2,"paddingOuter":0.27,"align":1},"axis":{"title":"GCSF (ug/ml)","titleFontSize":7,"labelAngle":0,"ticks":false,"labelExpr":"indexof(datum.label,'|')>=0 ? split(datum.label,'|')[1] : ''"}},
                 "y":{"field":"val","type":"quantitative","scale":{"domain":[0,15]},"axis":{"values":[0,5,10,15],"title":"relative ITGAM mRNA"}},
                 "fill":{"field":"strain","type":"nominal","scale":{"domain":["B6","Sle2c2"],"range":["black","white"]},"legend":null}}},
    {"data":{"name":"bars"},"transform":[{"filter":"datum.panel=='b2'"}],"mark":{"type":"rule","color":"black","strokeWidth":1.5},"encoding":{"x":{"field":"cond","type":"nominal"},"y":{"field":"val","type":"quantitative"},"y2":{"field":"err"}}},
    {"data":{"name":"bars"},"transform":[{"filter":"datum.panel=='b2'"}],"mark":{"type":"tick","color":"black","size":6,"thickness":1.5},"encoding":{"x":{"field":"cond","type":"nominal"},"y":{"field":"err","type":"quantitative"}}},
    {"data":{"name":"bsig"},"transform":[{"filter":"datum.panel=='b2'"}],"mark":{"type":"rule","color":"black","strokeWidth":1.5},"encoding":{"x":{"field":"from","type":"nominal"},"x2":{"field":"to"},"y":{"field":"level","type":"quantitative"}}},
    {"data":{"name":"bsig"},"transform":[{"filter":"datum.panel=='b2'"},{"fold":["from","to"],"as":["end","pos"]}],"mark":{"type":"point","shape":"M0,-1L0,1","size":20,"stroke":"black","strokeWidth":1.5,"opacity":1},"encoding":{"x":{"field":"pos","type":"nominal"},"y":{"field":"level","type":"quantitative"}}},
    {"data":{"name":"bsig"},"transform":[{"filter":"datum.panel=='b2' && datum.mid"}],"mark":{"type":"text","baseline":"bottom","fontSize":10,"fontWeight":"bold"},"encoding":{"x":{"field":"mid","type":"nominal"},"y":{"field":"level","type":"quantitative"},"text":{"field":"label"}}}
   ]},
  {"width":20,"height":1,"data":{"values":[]},"mark":"point"},
  {"width":108,"height":79,"title":{"text":"MPO BM","fontSize":13,"offset":8},
   "layer":[
    {"data":{"name":"bars"},"transform":[{"filter":"datum.panel=='b3'"}],"mark":{"type":"bar","stroke":"black","strokeWidth":1.5},
     "encoding":{"x":{"field":"cond","type":"nominal","scale":{"domain":["B6|0","B6|0.1","B6|1","gap","Sle2c2|0","Sle2c2|0.1","Sle2c2|1"],"paddingInner":0.2,"paddingOuter":0.13,"align":1},"axis":{"title":"GCSF (ug/ml)","titleFontSize":7,"labelAngle":0,"ticks":false,"labelExpr":"indexof(datum.label,'|')>=0 ? split(datum.label,'|')[1] : ''"}},
                 "y":{"field":"val","type":"quantitative","scale":{"domain":[0,5]},"axis":{"values":[0,1,2,3,4,5],"title":"relative MPO mRNA"}},
                 "fill":{"field":"strain","type":"nominal","scale":{"domain":["B6","Sle2c2"],"range":["black","white"]},"legend":null}}},
    {"data":{"name":"bars"},"transform":[{"filter":"datum.panel=='b3'"}],"mark":{"type":"rule","color":"black","strokeWidth":1.5},"encoding":{"x":{"field":"cond","type":"nominal"},"y":{"field":"val","type":"quantitative"},"y2":{"field":"err"}}},
    {"data":{"name":"bars"},"transform":[{"filter":"datum.panel=='b3'"}],"mark":{"type":"tick","color":"black","size":6,"thickness":1.5},"encoding":{"x":{"field":"cond","type":"nominal"},"y":{"field":"err","type":"quantitative"}}},
    {"data":{"name":"bsig"},"transform":[{"filter":"datum.panel=='b3'"}],"mark":{"type":"rule","color":"black","strokeWidth":1.5},"encoding":{"x":{"field":"from","type":"nominal"},"x2":{"field":"to"},"y":{"field":"level","type":"quantitative"}}},
    {"data":{"name":"bsig"},"transform":[{"filter":"datum.panel=='b3'"},{"fold":["from","to"],"as":["end","pos"]}],"mark":{"type":"point","shape":"M0,-1L0,1","size":20,"stroke":"black","strokeWidth":1.5,"opacity":1},"encoding":{"x":{"field":"pos","type":"nominal"},"y":{"field":"level","type":"quantitative"}}},
    {"data":{"name":"bsig"},"transform":[{"filter":"datum.panel=='b3' && datum.mid"}],"mark":{"type":"text","baseline":"bottom","fontSize":10,"fontWeight":"bold"},"encoding":{"x":{"field":"mid","type":"nominal"},"y":{"field":"level","type":"quantitative"},"text":{"field":"label"}}},
    {"data":{"name":"bsig"},"transform":[{"filter":"datum.panel=='b3' && !datum.mid"}],"mark":{"type":"text","baseline":"bottom","fontSize":10,"fontWeight":"bold"},"encoding":{"x":{"field":"from","type":"nominal","bandPosition":1.15},"y":{"field":"level","type":"quantitative"},"text":{"field":"label"}}}
   ]},
  {"width":9,"height":1,"data":{"values":[]},"mark":"point"},
  {"width":121,"height":79,"title":{"text":"MPO spleen","fontSize":13,"offset":8},
   "layer":[
    {"data":{"name":"bars"},"transform":[{"filter":"datum.panel=='b4'"}],"mark":{"type":"bar","stroke":"black","strokeWidth":1.5},
     "encoding":{"x":{"field":"cond","type":"nominal","scale":{"domain":["B6|0","B6|0.1","B6|1","gap","Sle2c2|0","Sle2c2|0.1","Sle2c2|1"],"paddingInner":0.22,"paddingOuter":0.55,"align":0.88},"axis":{"title":"GCSF (ug/ml)","titleFontSize":7,"labelAngle":0,"ticks":false,"labelExpr":"indexof(datum.label,'|')>=0 ? split(datum.label,'|')[1] : ''"}},
                 "y":{"field":"val","type":"quantitative","scale":{"domain":[0,10]},"axis":{"values":[0,2,4,6,8,10],"title":"relative MPO mRNA"}},
                 "fill":{"field":"strain","type":"nominal","scale":{"domain":["B6","Sle2c2"],"range":["black","white"]},"legend":null}}},
    {"data":{"name":"bars"},"transform":[{"filter":"datum.panel=='b4'"}],"mark":{"type":"rule","color":"black","strokeWidth":1.5},"encoding":{"x":{"field":"cond","type":"nominal"},"y":{"field":"val","type":"quantitative"},"y2":{"field":"err"}}},
    {"data":{"name":"bars"},"transform":[{"filter":"datum.panel=='b4'"}],"mark":{"type":"tick","color":"black","size":6,"thickness":1.5},"encoding":{"x":{"field":"cond","type":"nominal"},"y":{"field":"err","type":"quantitative"}}},
    {"data":{"name":"bsig"},"transform":[{"filter":"datum.panel=='b4'"}],"mark":{"type":"rule","color":"black","strokeWidth":1.5},"encoding":{"x":{"field":"from","type":"nominal"},"x2":{"field":"to"},"y":{"field":"level","type":"quantitative"}}},
    {"data":{"name":"bsig"},"transform":[{"filter":"datum.panel=='b4'"},{"fold":["from","to"],"as":["end","pos"]}],"mark":{"type":"point","shape":"M0,-1L0,1","size":20,"stroke":"black","strokeWidth":1.5,"opacity":1},"encoding":{"x":{"field":"pos","type":"nominal"},"y":{"field":"level","type":"quantitative"}}},
    {"data":{"name":"bsig"},"transform":[{"filter":"datum.panel=='b4' && datum.mid"}],"mark":{"type":"text","baseline":"bottom","fontSize":10,"fontWeight":"bold"},"encoding":{"x":{"field":"mid","type":"nominal"},"y":{"field":"level","type":"quantitative"},"text":{"field":"label"}}},
    {"data":{"name":"bsig"},"transform":[{"filter":"datum.panel=='b4' && !datum.mid"}],"mark":{"type":"text","baseline":"bottom","fontSize":10,"fontWeight":"bold"},"encoding":{"x":{"field":"from","type":"nominal","bandPosition":1.15},"y":{"field":"level","type":"quantitative"},"text":{"field":"label"}}}
   ]}
 ]},
 {"width":1,"height":1,"data":{"values":[]},"mark":"point"},
 {"bounds":"flush","spacing":10,"hconcat":[
  {"width":22,"height":1,"data":{"values":[]},"mark":"point","title":{"text":"C","anchor":"start","fontSize":20,"offset":20,"dx":15,"frame":"group"}},
  {"width":128,"height":96,"title":{"text":"CD11b+","fontSize":12,"offset":10,"color":"#1c1c3c","dx":-8},"view":{"stroke":"black","strokeWidth":1.5},
   "layer":[
    {"data":{"name":"hist"},"transform":[{"filter":"datum.panel=='c1' && datum.series=='isotype'"}],"mark":{"type":"area","color":"#c4c4c4","clip":true},
     "encoding":{"x":{"field":"x","type":"quantitative","scale":{"type":"log","domain":[1,10000]},"axis":{"values":[1,2,3,4,5,6,7,8,9,10,20,30,40,50,60,70,80,90,100,200,300,400,500,600,700,800,900,1000,2000,3000,4000,5000,6000,7000,8000,9000,10000],"labelExpr":"datum.value==1?'10⁰':datum.value==10?'10¹':datum.value==100?'10²':datum.value==1000?'10³':datum.value==10000?'10⁴':''","tickSize":2.5,"title":"pSTAT3-PE","titleFontSize":12,"titleColor":"#1c1c3c","labelFontSize":7,"labelFontWeight":"normal","titlePadding":2}},
                 "y":{"field":"count","type":"quantitative","scale":{"domain":[0,25]},"axis":{"values":[0,6.25,12.5,18.75,25],"labelExpr":"round(datum.value)","title":"Count","titleFontSize":9,"titleFontWeight":"normal","labelFontSize":7,"labelFontWeight":"normal"}}}},
    {"data":{"name":"hist"},"transform":[{"filter":"datum.panel=='c1' && datum.series=='Sle2c2'"}],"mark":{"type":"line","color":"#8a8a8a","strokeWidth":1.2,"clip":true},"encoding":{"x":{"field":"x","type":"quantitative"},"y":{"field":"count","type":"quantitative"}}},
    {"data":{"name":"hist"},"transform":[{"filter":"datum.panel=='c1' && datum.series=='B6'"}],"mark":{"type":"line","color":"black","strokeWidth":1.5,"clip":true},"encoding":{"x":{"field":"x","type":"quantitative"},"y":{"field":"count","type":"quantitative"}}},
    {"data":{"name":"gates"},"transform":[{"filter":"datum.panel=='c1'"}],"mark":{"type":"rule","color":"black","strokeWidth":2},"encoding":{"x":{"field":"from","type":"quantitative"},"x2":{"field":"to"},"y":{"field":"level","type":"quantitative"}}},
    {"data":{"name":"gates"},"transform":[{"filter":"datum.panel=='c1'"},{"fold":["from","to"],"as":["end","pos"]}],"mark":{"type":"point","shape":"M0,-1L0,1","size":100,"stroke":"black","strokeWidth":2,"opacity":1},"encoding":{"x":{"field":"pos","type":"quantitative"},"y":{"field":"level","type":"quantitative"}}},
    {"data":{"name":"gates"},"transform":[{"filter":"datum.panel=='c1'"}],"mark":{"type":"text","fontSize":12,"fontWeight":"bold","color":"#1c1c3c","baseline":"middle"},"encoding":{"x":{"field":"lx","type":"quantitative"},"y":{"field":"ly","type":"quantitative"},"text":{"field":"label"}}}
   ]},
  {"width":37,"height":1,"data":{"values":[]},"mark":"point"},
  {"width":120,"height":93,"title":{"text":"GR1hi CD11b+","fontSize":12,"offset":6,"color":"#1c1c3c","dx":-10},"view":{"stroke":"black","strokeWidth":1.5},
   "layer":[
    {"data":{"name":"hist"},"transform":[{"filter":"datum.panel=='c2' && datum.series=='isotype'"}],"mark":{"type":"area","color":"#c4c4c4","clip":true},
     "encoding":{"x":{"field":"x","type":"quantitative","scale":{"type":"log","domain":[1,10000]},"axis":{"values":[1,2,3,4,5,6,7,8,9,10,20,30,40,50,60,70,80,90,100,200,300,400,500,600,700,800,900,1000,2000,3000,4000,5000,6000,7000,8000,9000,10000],"labelExpr":"datum.value==1?'10⁰':datum.value==10?'10¹':datum.value==100?'10²':datum.value==1000?'10³':datum.value==10000?'10⁴':''","tickSize":2.5,"title":"pSTAT3-PE","titleFontSize":12,"titleColor":"#1c1c3c","labelFontSize":7,"labelFontWeight":"normal","titlePadding":2}},
                 "y":{"field":"count","type":"quantitative","scale":{"domain":[0,75]},"axis":{"values":[0,18.75,37.5,56.25,75],"labelExpr":"round(datum.value)","title":"Count","titleFontSize":9,"titleFontWeight":"normal","labelFontSize":7,"labelFontWeight":"normal"}}}},
    {"data":{"name":"hist"},"transform":[{"filter":"datum.panel=='c2' && datum.series=='Sle2c2'"}],"mark":{"type":"line","color":"#8a8a8a","strokeWidth":1.2,"clip":true},"encoding":{"x":{"field":"x","type":"quantitative"},"y":{"field":"count","type":"quantitative"}}},
    {"data":{"name":"hist"},"transform":[{"filter":"datum.panel=='c2' && datum.series=='B6'"}],"mark":{"type":"line","color":"black","strokeWidth":1.5,"clip":true},"encoding":{"x":{"field":"x","type":"quantitative"},"y":{"field":"count","type":"quantitative"}}},
    {"data":{"name":"gates"},"transform":[{"filter":"datum.panel=='c2'"}],"mark":{"type":"rule","color":"black","strokeWidth":2},"encoding":{"x":{"field":"from","type":"quantitative"},"x2":{"field":"to"},"y":{"field":"level","type":"quantitative"}}},
    {"data":{"name":"gates"},"transform":[{"filter":"datum.panel=='c2'"},{"fold":["from","to"],"as":["end","pos"]}],"mark":{"type":"point","shape":"M0,-1L0,1","size":100,"stroke":"black","strokeWidth":2,"opacity":1},"encoding":{"x":{"field":"pos","type":"quantitative"},"y":{"field":"level","type":"quantitative"}}},
    {"data":{"name":"gates"},"transform":[{"filter":"datum.panel=='c2'"}],"mark":{"type":"text","fontSize":12,"fontWeight":"bold","color":"#1c1c3c","baseline":"middle"},"encoding":{"x":{"field":"lx","type":"quantitative"},"y":{"field":"ly","type":"quantitative"},"text":{"field":"label"}}}
   ]},
  {"width":23,"height":1,"data":{"values":[]},"mark":"point"},
  {"width":128,"height":96,"title":{"text":"GR1lo CD11b+","fontSize":12,"offset":13,"color":"#1c1c3c","dx":-10},"view":{"stroke":"black","strokeWidth":1.5},
   "layer":[
    {"data":{"name":"hist"},"transform":[{"filter":"datum.panel=='c3' && datum.series=='isotype'"}],"mark":{"type":"area","color":"#c4c4c4","clip":true},
     "encoding":{"x":{"field":"x","type":"quantitative","scale":{"type":"log","domain":[1,10000]},"axis":{"values":[1,2,3,4,5,6,7,8,9,10,20,30,40,50,60,70,80,90,100,200,300,400,500,600,700,800,900,1000,2000,3000,4000,5000,6000,7000,8000,9000,10000],"labelExpr":"datum.value==1?'10⁰':datum.value==10?'10¹':datum.value==100?'10²':datum.value==1000?'10³':datum.value==10000?'10⁴':''","tickSize":2.5,"title":"pSTAT3-PE","titleFontSize":12,"titleColor":"#1c1c3c","labelFontSize":7,"labelFontWeight":"normal","titlePadding":2}},
                 "y":{"field":"count","type":"quantitative","scale":{"domain":[0,15]},"axis":{"values":[0,3.75,7.5,11.25,15],"labelExpr":"round(datum.value)","title":"Count","titleFontSize":9,"titleFontWeight":"normal","labelFontSize":7,"labelFontWeight":"normal"}}}},
    {"data":{"name":"hist"},"transform":[{"filter":"datum.panel=='c3' && datum.series=='Sle2c2'"}],"mark":{"type":"line","color":"#8a8a8a","strokeWidth":1.2,"clip":true},"encoding":{"x":{"field":"x","type":"quantitative"},"y":{"field":"count","type":"quantitative"}}},
    {"data":{"name":"hist"},"transform":[{"filter":"datum.panel=='c3' && datum.series=='B6'"}],"mark":{"type":"line","color":"black","strokeWidth":1.5,"clip":true},"encoding":{"x":{"field":"x","type":"quantitative"},"y":{"field":"count","type":"quantitative"}}},
    {"data":{"name":"gates"},"transform":[{"filter":"datum.panel=='c3'"}],"mark":{"type":"rule","color":"black","strokeWidth":2},"encoding":{"x":{"field":"from","type":"quantitative"},"x2":{"field":"to"},"y":{"field":"level","type":"quantitative"}}},
    {"data":{"name":"gates"},"transform":[{"filter":"datum.panel=='c3'"},{"fold":["from","to"],"as":["end","pos"]}],"mark":{"type":"point","shape":"M0,-1L0,1","size":100,"stroke":"black","strokeWidth":2,"opacity":1},"encoding":{"x":{"field":"pos","type":"quantitative"},"y":{"field":"level","type":"quantitative"}}},
    {"data":{"name":"gates"},"transform":[{"filter":"datum.panel=='c3'"}],"mark":{"type":"text","fontSize":12,"fontWeight":"bold","color":"#1c1c3c","baseline":"middle"},"encoding":{"x":{"field":"lx","type":"quantitative"},"y":{"field":"ly","type":"quantitative"},"text":{"field":"label"}}}
   ]}
 ]},
 {"width":1,"height":11,"data":{"values":[]},"mark":"point"},
 {"bounds":"flush","spacing":10,"hconcat":[
  {"width":17,"height":1,"data":{"values":[]},"mark":"point"},
  {"width":125,"height":79,"title":{"text":"pSTAT3⁺","fontSize":10,"offset":6},
   "encoding":{"x":{"field":"strain","type":"nominal","scale":{"domain":["B6","Sle2c2"],"paddingInner":0,"paddingOuter":0},"axis":{"title":null,"labelAngle":0,"labelFontSize":8}}},
   "layer":[
    {"data":{"name":"spts"},"transform":[{"filter":"datum.panel=='s1'"}],"mark":{"type":"circle","size":32,"color":"black","opacity":1},"encoding":{"y":{"field":"pct","type":"quantitative","scale":{"domain":[0,60]},"axis":{"values":[0,20,40,60],"title":"%CD11b⁺"}}}},
    {"data":{"name":"sstats"},"transform":[{"filter":"datum.panel=='s1'"}],"mark":{"type":"tick","size":38,"thickness":1.5,"color":"#333333"},"encoding":{"y":{"field":"mean","type":"quantitative"}}},
    {"data":{"name":"sstats"},"transform":[{"filter":"datum.panel=='s1'"}],"mark":{"type":"rule","strokeWidth":1.5,"color":"#333333"},"encoding":{"y":{"field":"lo","type":"quantitative"},"y2":{"field":"hi"}}},
    {"data":{"name":"sstats"},"transform":[{"filter":"datum.panel=='s1'"}],"mark":{"type":"tick","size":20,"thickness":1.5,"color":"#333333"},"encoding":{"y":{"field":"lo","type":"quantitative"}}},
    {"data":{"name":"sstats"},"transform":[{"filter":"datum.panel=='s1'"}],"mark":{"type":"tick","size":20,"thickness":1.5,"color":"#333333"},"encoding":{"y":{"field":"hi","type":"quantitative"}}},
    {"data":{"name":"ssig"},"transform":[{"filter":"datum.panel=='s1'"}],"mark":{"type":"rule","strokeWidth":1.5,"color":"black"},"encoding":{"x":{"field":"from","type":"nominal"},"x2":{"field":"to"},"y":{"field":"level","type":"quantitative"}}},
    {"data":{"name":"ssig"},"transform":[{"filter":"datum.panel=='s1'"},{"fold":["from","to"],"as":["end","pos"]}],"mark":{"type":"point","shape":"M0,-1L0,1","size":20,"stroke":"black","strokeWidth":1.5,"opacity":1},"encoding":{"x":{"field":"pos","type":"nominal"},"y":{"field":"level","type":"quantitative"}}},
    {"data":{"name":"ssig"},"transform":[{"filter":"datum.panel=='s1'"}],"mark":{"type":"text","baseline":"bottom","fontSize":10,"fontWeight":"bold"},"encoding":{"x":{"field":"from","type":"nominal","bandPosition":1},"y":{"field":"level","type":"quantitative"},"text":{"field":"label"}}}
   ]},
  {"width":34,"height":1,"data":{"values":[]},"mark":"point"},
  {"width":111,"height":79,"title":{"text":"pSTAT3⁺","fontSize":10,"offset":6},
   "encoding":{"x":{"field":"strain","type":"nominal","scale":{"domain":["B6","Sle2c2"],"paddingInner":0,"paddingOuter":0},"axis":{"title":null,"labelAngle":0,"labelFontSize":8}}},
   "layer":[
    {"data":{"name":"spts"},"transform":[{"filter":"datum.panel=='s2'"}],"mark":{"type":"circle","size":32,"color":"black","opacity":1},"encoding":{"y":{"field":"pct","type":"quantitative","scale":{"domain":[0,60]},"axis":{"values":[0,20,40,60],"title":"%GR1ʰⁱ CD11b⁺"}}}},
    {"data":{"name":"sstats"},"transform":[{"filter":"datum.panel=='s2'"}],"mark":{"type":"tick","size":38,"thickness":1.5,"color":"#333333"},"encoding":{"y":{"field":"mean","type":"quantitative"}}},
    {"data":{"name":"sstats"},"transform":[{"filter":"datum.panel=='s2'"}],"mark":{"type":"rule","strokeWidth":1.5,"color":"#333333"},"encoding":{"y":{"field":"lo","type":"quantitative"},"y2":{"field":"hi"}}},
    {"data":{"name":"sstats"},"transform":[{"filter":"datum.panel=='s2'"}],"mark":{"type":"tick","size":20,"thickness":1.5,"color":"#333333"},"encoding":{"y":{"field":"lo","type":"quantitative"}}},
    {"data":{"name":"sstats"},"transform":[{"filter":"datum.panel=='s2'"}],"mark":{"type":"tick","size":20,"thickness":1.5,"color":"#333333"},"encoding":{"y":{"field":"hi","type":"quantitative"}}},
    {"data":{"name":"ssig"},"transform":[{"filter":"datum.panel=='s2'"}],"mark":{"type":"rule","strokeWidth":1.5,"color":"black"},"encoding":{"x":{"field":"from","type":"nominal"},"x2":{"field":"to"},"y":{"field":"level","type":"quantitative"}}},
    {"data":{"name":"ssig"},"transform":[{"filter":"datum.panel=='s2'"},{"fold":["from","to"],"as":["end","pos"]}],"mark":{"type":"point","shape":"M0,-1L0,1","size":20,"stroke":"black","strokeWidth":1.5,"opacity":1},"encoding":{"x":{"field":"pos","type":"nominal"},"y":{"field":"level","type":"quantitative"}}},
    {"data":{"name":"ssig"},"transform":[{"filter":"datum.panel=='s2'"}],"mark":{"type":"text","baseline":"bottom","fontSize":10,"fontWeight":"bold"},"encoding":{"x":{"field":"from","type":"nominal","bandPosition":1},"y":{"field":"level","type":"quantitative"},"text":{"field":"label"}}}
   ]},
  {"width":38,"height":1,"data":{"values":[]},"mark":"point"},
  {"width":118,"height":79,"title":{"text":"pSTAT3⁺","fontSize":10,"offset":6},
   "encoding":{"x":{"field":"strain","type":"nominal","scale":{"domain":["B6","Sle2c2"],"paddingInner":0,"paddingOuter":0},"axis":{"title":null,"labelAngle":0,"labelFontSize":8}}},
   "layer":[
    {"data":{"name":"spts"},"transform":[{"filter":"datum.panel=='s3'"}],"mark":{"type":"circle","size":32,"color":"black","opacity":1},"encoding":{"y":{"field":"pct","type":"quantitative","scale":{"domain":[0,60]},"axis":{"values":[0,20,40,60],"title":"%GR1ˡᵒ CD11b⁺"}}}},
    {"data":{"name":"sstats"},"transform":[{"filter":"datum.panel=='s3'"}],"mark":{"type":"tick","size":38,"thickness":1.5,"color":"#333333"},"encoding":{"y":{"field":"mean","type":"quantitative"}}},
    {"data":{"name":"sstats"},"transform":[{"filter":"datum.panel=='s3'"}],"mark":{"type":"rule","strokeWidth":1.5,"color":"#333333"},"encoding":{"y":{"field":"lo","type":"quantitative"},"y2":{"field":"hi"}}},
    {"data":{"name":"sstats"},"transform":[{"filter":"datum.panel=='s3'"}],"mark":{"type":"tick","size":20,"thickness":1.5,"color":"#333333"},"encoding":{"y":{"field":"lo","type":"quantitative"}}},
    {"data":{"name":"sstats"},"transform":[{"filter":"datum.panel=='s3'"}],"mark":{"type":"tick","size":20,"thickness":1.5,"color":"#333333"},"encoding":{"y":{"field":"hi","type":"quantitative"}}},
    {"data":{"name":"ssig"},"transform":[{"filter":"datum.panel=='s3'"}],"mark":{"type":"rule","strokeWidth":1.5,"color":"black"},"encoding":{"x":{"field":"from","type":"nominal"},"x2":{"field":"to"},"y":{"field":"level","type":"quantitative"}}},
    {"data":{"name":"ssig"},"transform":[{"filter":"datum.panel=='s3'"},{"fold":["from","to"],"as":["end","pos"]}],"mark":{"type":"point","shape":"M0,-1L0,1","size":20,"stroke":"black","strokeWidth":1.5,"opacity":1},"encoding":{"x":{"field":"pos","type":"nominal"},"y":{"field":"level","type":"quantitative"}}},
    {"data":{"name":"ssig"},"transform":[{"filter":"datum.panel=='s3'"}],"mark":{"type":"text","baseline":"bottom","fontSize":10,"fontWeight":"bold"},"encoding":{"x":{"field":"from","type":"nominal","bandPosition":1},"y":{"field":"level","type":"quantitative"},"text":{"field":"label"}}}
   ]}
 ]}
]
}
